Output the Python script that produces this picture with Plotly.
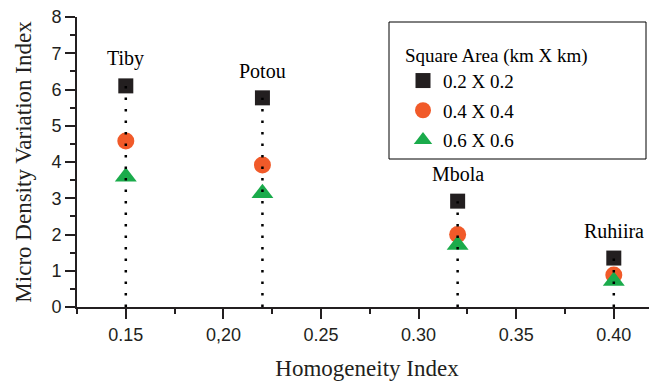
import plotly.graph_objects as go

# ---- data ----
sites = ["Tiby", "Potou", "Mbola", "Ruhiira"]
homogeneity = [0.15, 0.22, 0.32, 0.40]
series_names = ["0.2 X 0.2", "0.4 X 0.4", "0.6 X 0.6"]
mdvi_02 = [6.10, 5.77, 2.92, 1.35]
mdvi_04 = [4.58, 3.92, 2.00, 0.88]
mdvi_06 = [3.59, 3.14, 1.71, 0.72]
x_tickvals = [0.15, 0.20, 0.25, 0.30, 0.35, 0.40]
x_ticktext = ["0.15", "0,20", "0.25", "0.30", "0.35", "0.40"]

INK = "#231f20"
SERIF = "Liberation Serif"
SANS = "Liberation Sans"

fig = go.Figure()

styles = [
    dict(symbol="square", size=15, color="#231f20"),
    dict(symbol="circle", size=17, color="#f15a29"),
    dict(symbol="triangle-up", size=19, color="#1aab4b"),
]
for name, vals, st in zip(series_names, [mdvi_02, mdvi_04, mdvi_06], styles):
    fig.add_trace(go.Scatter(
        x=homogeneity, y=vals, mode="markers", name=name,
        legendgroup=name,
        marker=dict(symbol=st["symbol"], size=st["size"], color=st["color"],
                    line=dict(width=0)),
    ))

# dotted drop lines from 0 to the top marker
lx, ly = [], []
for xv, top in zip(homogeneity, mdvi_02):
    lx += [xv, xv, None]
    ly += [0, top, None]
fig.add_trace(go.Scatter(
    x=lx, y=ly, mode="lines", showlegend=False, hoverinfo="skip",
    line=dict(color="black", width=2.5, dash="2.5px,9px"),
))

# site labels above the squares
for s, xv, yv in zip(sites, homogeneity, mdvi_02):
    fig.add_annotation(x=xv, y=yv, text=s, showarrow=False, yshift=27,
                       font=dict(family=SERIF, size=20, color="black"))

# legend frame (paper coords relative to plot area: 580 x 290 px)
fig.add_shape(type="rect", xref="paper", yref="paper",
              x0=(389 - 77) / 580, x1=(646 - 77) / 580,
              y0=1 - (159 - 17) / 290, y1=1 - (22 - 17) / 290,
              line=dict(color="black", width=1))

xr = [0.125, 0.125 + 580 / 1952]
common_x = dict(range=xr, tickmode="array", tickvals=x_tickvals,
                ticklen=10, tickwidth=2, tickcolor=INK, showline=True,
                linewidth=2, linecolor=INK, showgrid=False, zeroline=False,
                automargin=False)
# page body has an 8px margin, so the figure is 8px smaller each way
fig.update_layout(
    width=649, height=374,
    margin=dict(l=69, r=0, t=9, b=75, autoexpand=False),
    paper_bgcolor="white", plot_bgcolor="white",
    xaxis=dict(**common_x, ticktext=x_ticktext, ticks="outside",
               ticklabeloverflow="allow",
               minor=dict(ticks="outside", ticklen=5, tickwidth=2,
                          tickcolor=INK, dtick=0.025, tick0=0.125),
               tickfont=dict(family=SANS, size=18, color=INK),
               title=dict(text="Homogeneity Index", standoff=16,
                          font=dict(family=SERIF, size=23, color=INK))),
    xaxis2=dict(**common_x, overlaying="x", side="top", ticks="inside",
                showticklabels=False,
                minor=dict(ticks="inside", ticklen=5, tickwidth=2,
                           tickcolor=INK, dtick=0.025, tick0=0.125)),
    yaxis=dict(range=[0, 8], dtick=1, tick0=0, ticks="outside", ticklen=10,
               tickwidth=2, tickcolor=INK, showline=True, linewidth=2,
               linecolor=INK, showgrid=False, zeroline=False, automargin=False,
               ticklabeloverflow="allow",
               minor=dict(ticks="outside", ticklen=5, tickwidth=2,
                          tickcolor=INK, dtick=0.5),
               tickfont=dict(family=SANS, size=18, color=INK),
               title=dict(text="Micro Density Variation Index", standoff=13,
                          font=dict(family=SERIF, size=23, color=INK))),
    yaxis2=dict(range=[0, 8], dtick=1, overlaying="y", side="right",
                ticks="inside", ticklen=9, tickwidth=2, tickcolor=INK,
                showline=False, showgrid=False, zeroline=False,
                showticklabels=False, automargin=False,
                minor=dict(ticks="inside", ticklen=3, tickwidth=2,
                           tickcolor=INK, dtick=0.5)),
    legend=dict(x=(403 - 77) / 580, y=1 - (37 - 17) / 290,
                xanchor="left", yanchor="top", bgcolor="rgba(0,0,0,0)",
                borderwidth=0, tracegroupgap=2,
                font=dict(family=SERIF, size=19, color="black"),
                title=dict(text="Square Area (km X km)",
                           font=dict(family=SERIF, size=19, color="black"))),
)

fig.write_html("out.html")
